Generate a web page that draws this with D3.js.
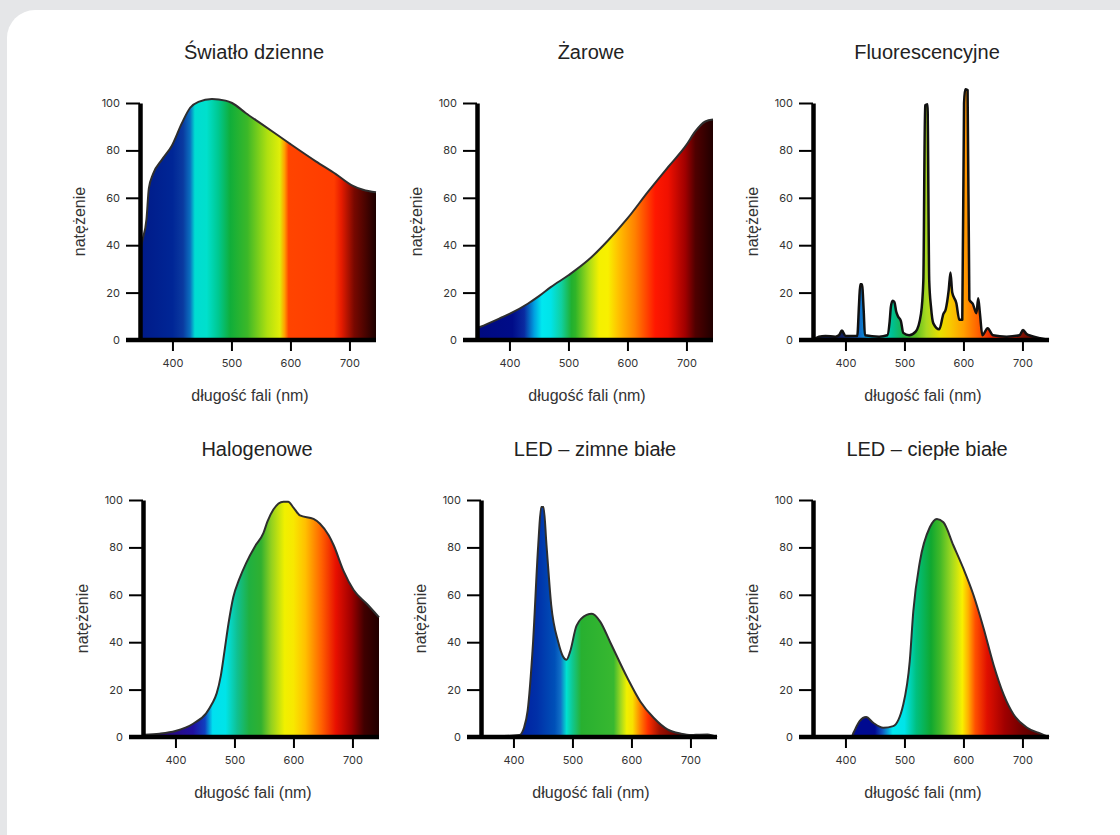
<!DOCTYPE html>
<html>
<head>
<meta charset="utf-8">
<script src="https://cdn.jsdelivr.net/npm/d3@7"></script>
<style>
  html, body { margin: 0; padding: 0; background: #e5e6e8; }
  .tick text { font-family: Inter, "Noto Sans", sans-serif; font-size: 11px; fill: #333; }
</style>
</head>
<body>
<div id="chart"></div>
<script>
// wavelength (nm) -> intensity
var daylight = [[345,37],[349,42],[356,51],[360,64],[367,70],[382,76],[399,82],[416,91.5],[430,98],[444,100.5],
  [467,101.7],[490,101],[501,100],[524,95.8],[552,91],[598,83],[643,75.4],[677,70],[706,65],[723,63.4],[745,62.3]];
var incandescent = [[345,5],[350,5.5],[385,9.3],[400,11],[431,15.3],[450,18.5],[470,22.3],[500,27.3],[533,33.6],
  [567,42],[600,51.3],[635,62.6],[669,73],[700,82.3],[715,88],[732,92.2],[745,93]];
var fluorescent = [[345,0],[355,1.4],[366,1.7],[383,1.4],[389,2],[394,4],[400,1.7],[420,1.7],[423,15],[425,23.5],
  [428,23.5],[431,12],[433,2],[457,1.4],[471,2],[475,8],[477,14],[480,16.6],[483,16],[486,12],[489,10],[494,8],
  [498,3],[508,2],[519,3.5],[528,11],[532,25],[535,99],[539,99.5],[542,25],[545,14],[549,7],[559,4.5],[566,11],
  [570,13],[575,21],[578,28.5],[581,20],[588,15.5],[593,8.5],[598,8.5],[601,100],[603,105.8],[607,105.5],[610,17],
  [616,15.2],[622,11.3],[625,17.6],[628,11],[632,2],[641,5],[650,2],[673,1.4],[695,2],[701,4.2],[707,2.5],
  [715,1.7],[730,0.7],[745,0]];
var halogen = [[347,1],[373,1.4],[400,2.5],[430,5.6],[452,10],[462,14],[470,18.5],[477,26],[483,36],[490,48],
  [498,59],[508,66.5],[520,73.5],[535,80.5],[549,86],[556,91],[566,96],[583,99.3],[591,99.3],[600,96.8],[611,93.5],
  [634,92],[645,90],[660,85],[668,81],[685,70],[702,62],[725,56],[745,50.5]];
var ledCold = [[345,0],[410,0.8],[418,4],[424,11],[433,39],[442,81],[447,97],[451,97],[456,81],[464,55.7],
  [476,40],[484,34],[490,32.6],[496,36],[507,47],[524,51.5],[533,52],[547,48.7],[564,40],[593,25],[615,15],
  [638,8],[661,3.2],[684,1.4],[701,0.8],[715,1],[729,1.1],[745,0]];
var ledWarm = [[345,0],[410,0],[414,2],[424,6.7],[435,8.4],[447,6],[464,3.9],[481,4.6],[498,13.7],[509,32],
  [515,53],[526,73.8],[543,88.5],[555,92],[566,90.6],[583,80.8],[600,71],[617,59.9],[634,46],[651,30.5],
  [668,18],[685,9.5],[708,3.9],[731,1.4],[745,0]];

// spectrum colours under each curve (wavelength, colour)
var daylightColors = [[345,"#001a88"],[400,"#002696"],[418,"#0a3aa0"],[430,"#0a70c0"],[438,"#00dcd2"],[458,"#00e0cc"],
  [478,"#00c890"],[498,"#10ae3a"],[527,"#3cb828"],[561,"#b0e010"],[582,"#e0ee08"],[590,"#ffa000"],[597,"#ff4400"],
  [674,"#ff3c00"],[686,"#e81c00"],[708,"#780800"],[745,"#1c0000"]];
var incandescentColors = [[345,"#000a80"],[405,"#000c88"],[425,"#0a2aa0"],[442,"#00a0e0"],[455,"#00e8f0"],[470,"#00e4e8"],
  [488,"#10d0a0"],[505,"#20b030"],[512,"#30b428"],[535,"#a8dc18"],[552,"#f4f000"],[567,"#f8f000"],[585,"#ffc000"],
  [613,"#ff8000"],[647,"#ff1800"],[669,"#f01000"],[698,"#a00000"],[715,"#500000"],[745,"#200000"]];
var fluorescentColors = [[345,"#0a1a50"],[395,"#102060"],[415,"#1050b0"],[426,"#1070c8"],[445,"#00b8e0"],[462,"#00d0c8"],
  [480,"#00c090"],[500,"#20b040"],[520,"#60c020"],[537,"#a8d820"],[560,"#e8e000"],[578,"#f8c800"],[600,"#ffa000"],
  [625,"#ff6000"],[650,"#e82000"],[680,"#d01800"],[700,"#801000"],[745,"#300000"]];
var halogenColors = [[345,"#200860"],[390,"#2a0a80"],[430,"#2010a0"],[450,"#1040c0"],[463,"#00e0f0"],[485,"#00e4e8"],
  [505,"#10c090"],[525,"#20b040"],[545,"#30b030"],[562,"#90d020"],[585,"#f0f000"],[600,"#f8e800"],[620,"#ffc000"],
  [648,"#ff6000"],[672,"#e81000"],[698,"#a00000"],[720,"#400000"],[745,"#200000"]];
var ledColdColors = [[345,"#0020a0"],[410,"#0020a0"],[440,"#0030a8"],[470,"#0050b8"],[480,"#1070c8"],[490,"#00e0d0"],
  [500,"#10c890"],[515,"#28b030"],[570,"#38b830"],[582,"#a0d820"],[592,"#f0f000"],[602,"#f8e000"],[615,"#ff8000"],
  [628,"#ff3000"],[648,"#a01000"],[680,"#600000"],[745,"#400000"]];
var ledWarmColors = [[345,"#000a90"],[450,"#000a90"],[462,"#1050c0"],[480,"#00e8f0"],[500,"#00e4e8"],[520,"#00c080"],
  [545,"#10a830"],[560,"#40b828"],[580,"#a0d820"],[598,"#f8f000"],[608,"#ffb000"],[620,"#ff5000"],[640,"#e01000"],
  [670,"#a00000"],[700,"#700000"],[745,"#400000"]];

var titles = ["Światło dzienne", "Żarowe", "Fluorescencyjne", "Halogenowe", "LED – zimne białe", "LED – ciepłe białe"];
var xTicks = [400, 500, 600, 700];
var yTicks = [0, 20, 40, 60, 80, 100];
var xLabel = "długość fali (nm)";
var yLabel = "natężenie";

var series = [daylight, incandescent, fluorescent, halogen, ledCold, ledWarm];
var colorStops = [daylightColors, incandescentColors, fluorescentColors, halogenColors, ledColdColors, ledWarmColors];

// layout
var width = 1120, height = 835;
var plotW = 236, plotH = 237;
var origins = [[140,103],[477,103],[813,103],[143,500],[481,500],[813,500]];
var wlDomain = [345, 745];

var svg = d3.select("#chart").append("svg")
  .attr("width", width)
  .attr("height", height);

svg.append("rect").attr("width", width).attr("height", height).attr("fill", "#e5e6e8");
svg.append("rect")
  .attr("x", 7).attr("y", 10)
  .attr("width", 1150).attr("height", 860)
  .attr("rx", 28)
  .attr("fill", "#ffffff");

var defs = svg.append("defs");

series.forEach(function(data, i){
  var x = d3.scaleLinear().domain(wlDomain).range([0, plotW]);
  var y = d3.scaleLinear().domain([0, 100]).range([plotH, 0]);

  var g = svg.append("g")
    .attr("transform", "translate(" + origins[i][0] + "," + origins[i][1] + ")");

  // gradient coords are in the local space of the path (inside g)
  var grad = defs.append("linearGradient")
    .attr("id", "spec" + i)
    .attr("gradientUnits", "userSpaceOnUse")
    .attr("x1", x(wlDomain[0])).attr("x2", x(wlDomain[1]))
    .attr("y1", 0).attr("y2", 0);
  grad.selectAll("stop").data(colorStops[i]).enter().append("stop")
    .attr("offset", function(d){ return (d[0] - wlDomain[0]) / (wlDomain[1] - wlDomain[0]); })
    .attr("stop-color", function(d){ return d[1]; });

  var area = d3.area()
    .x(function(d){ return x(d[0]); })
    .y0(y(0))
    .y1(function(d){ return y(d[1]); })
    .curve(d3.curveMonotoneX);
  var line = d3.line()
    .x(function(d){ return x(d[0]); })
    .y(function(d){ return y(d[1]); })
    .curve(d3.curveMonotoneX);

  g.append("path")
    .datum(data)
    .attr("d", area)
    .attr("fill", "url(#spec" + i + ")");
  g.append("path")
    .datum(data)
    .attr("d", line)
    .attr("fill", "none")
    .attr("stroke", i == 2 ? "#111" : "#2e2e2e")
    .attr("stroke-width", i == 2 ? 2.5 : 2)
    .attr("stroke-linejoin", "round");

  // axes
  var yAxis = g.append("g")
    .call(d3.axisLeft(y).tickValues(yTicks).tickSize(14).tickPadding(6).tickSizeOuter(0));
  yAxis.select(".domain").attr("stroke", "#000").attr("stroke-width", 4.5);
  yAxis.selectAll(".tick line").attr("stroke", "#000").attr("stroke-width", 2);

  var xAxis = g.append("g")
    .attr("transform", "translate(0," + plotH + ")")
    .call(d3.axisBottom(x).tickValues(xTicks).tickSize(11).tickPadding(8).tickSizeOuter(0));
  xAxis.select(".domain").remove();
  xAxis.selectAll(".tick line").attr("stroke", "#000").attr("stroke-width", 2);
  xAxis.append("line")
    .attr("x1", x.range()[0] - 14).attr("x2", x.range()[1])
    .attr("y1", 0).attr("y2", 0)
    .attr("stroke", "#000").attr("stroke-width", 4.5);

  // titles
  g.append("text")
    .attr("x", plotW / 2 - 4).attr("y", -44)
    .attr("text-anchor", "middle")
    .style("font-family", "'Liberation Sans', Arial, sans-serif")
    .style("font-size", "20px")
    .attr("fill", "#222")
    .text(titles[i]);
  g.append("text")
    .attr("x", plotW / 2 - 8).attr("y", plotH + 61)
    .attr("text-anchor", "middle")
    .style("font-family", "'Liberation Sans', Arial, sans-serif")
    .style("font-size", "16px")
    .attr("fill", "#333")
    .text(xLabel);
  g.append("text")
    .attr("transform", "translate(-55," + (plotH / 2) + ") rotate(-90)")
    .attr("text-anchor", "middle")
    .style("font-family", "'Liberation Sans', Arial, sans-serif")
    .style("font-size", "16px")
    .attr("fill", "#333")
    .text(yLabel);
});
</script>
</body>
</html>
